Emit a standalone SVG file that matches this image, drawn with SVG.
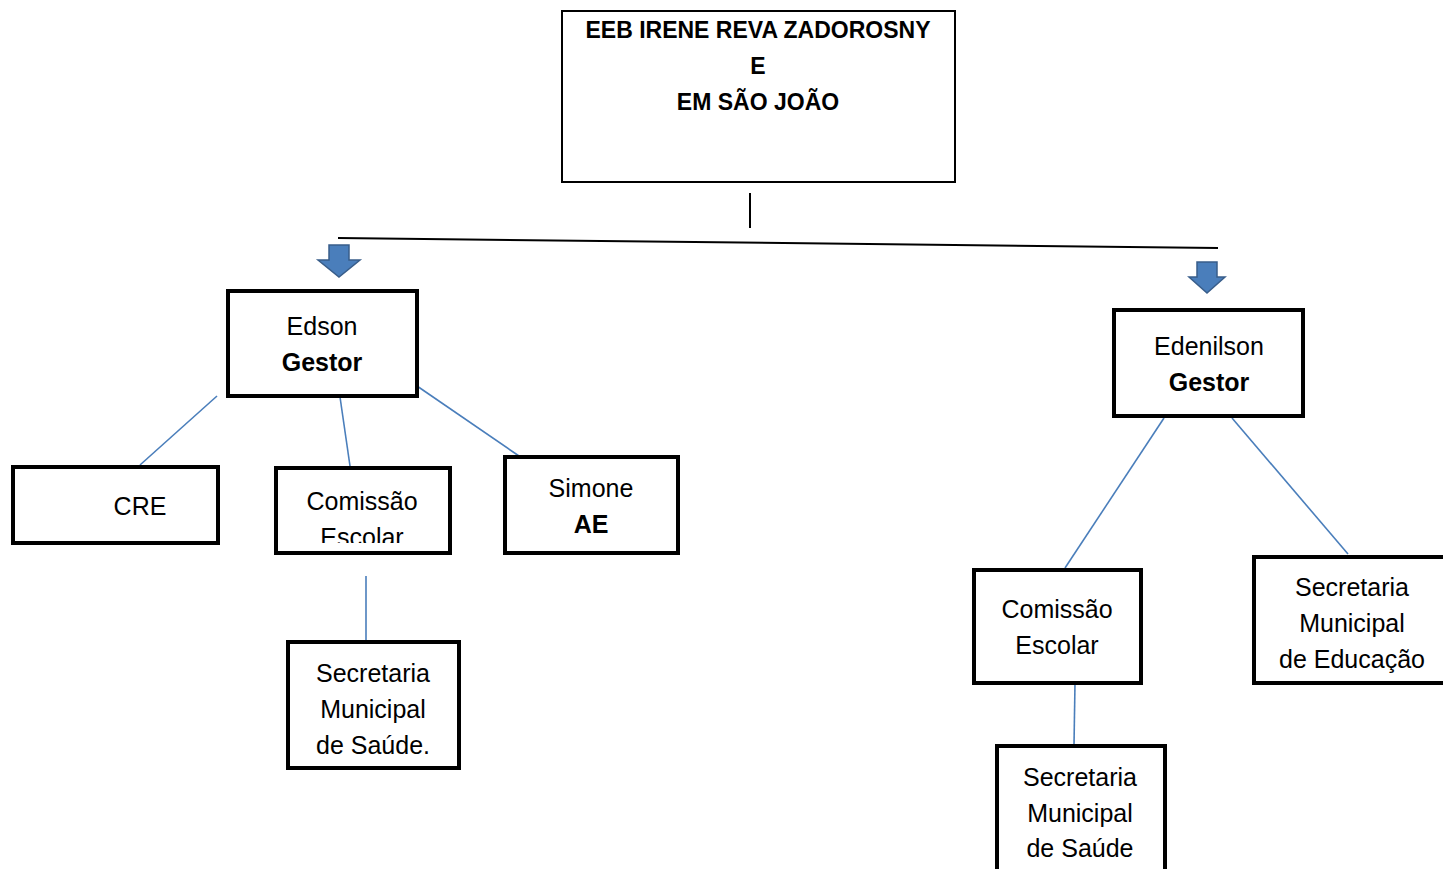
<svg xmlns="http://www.w3.org/2000/svg" width="1443" height="869" viewBox="0 0 1443 869">
<style>
.box{fill:#fff;stroke:#000;stroke-width:4}
.t{font-family:"Liberation Sans",Arial,sans-serif;font-size:25px;fill:#000;text-anchor:middle}
.b{font-weight:bold}
.h{font-size:23px}
.c{stroke:#4a7ebb;stroke-width:1.6;fill:none}
.k{stroke:#000;stroke-width:2;fill:none}
.arr{fill:#4a7ebb;stroke:#385d8a;stroke-width:1.5}
</style>
<defs>
<clipPath id="clipCE"><rect x="278" y="470" width="170" height="73"/></clipPath>
</defs>
<g id="connectors">
<line class="k" x1="750" y1="193" x2="750" y2="228"/>
<line class="k" x1="338" y1="238" x2="1218" y2="248"/>
<path class="arr" d="M329,245 H349 V260 H360 L339,277 L318,260 H329 Z"/>
<path class="arr" d="M1197,262 H1217 V277 H1225 L1207,293 L1189,277 H1197 Z"/>
<line class="c" x1="217" y1="396" x2="140" y2="465"/>
<line class="c" x1="340" y1="397" x2="350" y2="466"/>
<line class="c" x1="417" y1="386" x2="519" y2="456"/>
<line class="c" x1="366" y1="576" x2="366" y2="641"/>
<line class="c" x1="1164" y1="418" x2="1065" y2="568"/>
<line class="c" x1="1232" y1="418" x2="1348" y2="554"/>
<line class="c" x1="1075" y1="683" x2="1074" y2="745"/>
</g>
<g id="top">
<rect x="562" y="11" width="393" height="171" fill="#fff" stroke="#000" stroke-width="2"/>
<text class="t b h" x="758" y="38">EEB IRENE REVA ZADOROSNY</text>
<text class="t b h" x="758" y="74">E</text>
<text class="t b h" x="758" y="110">EM SÃO JOÃO</text>
</g>
<g id="edson">
<rect class="box" x="228" y="291" width="189" height="105"/>
<text class="t" x="322" y="335">Edson</text>
<text class="t b" x="322" y="371">Gestor</text>
</g>
<g id="cre">
<rect class="box" x="13" y="467" width="205" height="76"/>
<text class="t" x="140" y="515">CRE</text>
</g>
<g id="comissao1">
<rect class="box" x="276" y="468" width="174" height="85"/>
<g clip-path="url(#clipCE)">
<text class="t" x="362" y="510">Comissão</text>
<text class="t" x="362" y="546">Escolar</text>
</g>
</g>
<g id="simone">
<rect class="box" x="505" y="457" width="173" height="96"/>
<text class="t" x="591" y="497">Simone</text>
<text class="t b" x="591" y="533">AE</text>
</g>
<g id="saude1">
<rect class="box" x="288" y="642" width="171" height="126"/>
<text class="t" x="373" y="682">Secretaria</text>
<text class="t" x="373" y="718">Municipal</text>
<text class="t" x="373" y="754">de Saúde.</text>
</g>
<g id="edenilson">
<rect class="box" x="1114" y="310" width="189" height="106"/>
<text class="t" x="1209" y="355">Edenilson</text>
<text class="t b" x="1209" y="391">Gestor</text>
</g>
<g id="comissao2">
<rect class="box" x="974" y="570" width="167" height="113"/>
<text class="t" x="1057" y="618">Comissão</text>
<text class="t" x="1057" y="654">Escolar</text>
</g>
<g id="educacao">
<rect class="box" x="1254" y="557" width="200" height="126"/>
<text class="t" x="1352" y="596">Secretaria</text>
<text class="t" x="1352" y="632">Municipal</text>
<text class="t" x="1352" y="668">de Educação</text>
</g>
<g id="saude2">
<rect class="box" x="997" y="746" width="168" height="140"/>
<text class="t" x="1080" y="786">Secretaria</text>
<text class="t" x="1080" y="822">Municipal</text>
<text class="t" x="1080" y="857">de Saúde</text>
</g>
</svg>
